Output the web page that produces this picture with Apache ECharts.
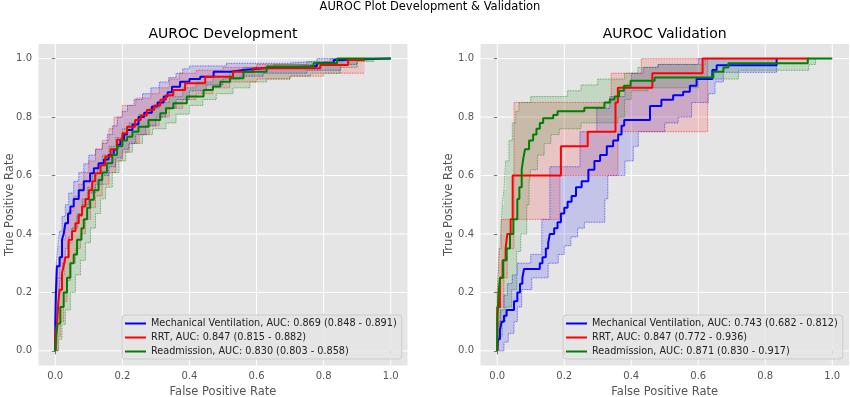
<!DOCTYPE html>
<html>
<head>
<meta charset="utf-8">
<script src="https://cdn.jsdelivr.net/npm/echarts@6/dist/echarts.min.js"></script>
<style>html,body{margin:0;padding:0;background:#fff}#chart{width:850px;height:397px}</style>
</head>
<body>
<div id="chart"></div>
<script>
// ---------- tick values ----------
const xTicks = [0, 0.2, 0.4, 0.6, 0.8, 1.0];
const yTicks = [0, 0.2, 0.4, 0.6, 0.8, 1.0];

// ---------- legend names ----------
const devNames = [
  'Mechanical Ventilation, AUC: 0.869 (0.848 - 0.891)',
  'RRT, AUC: 0.847 (0.815 - 0.882)',
  'Readmission, AUC: 0.830 (0.803 - 0.858)'
];
const valNames = [
  'Mechanical Ventilation, AUC: 0.743 (0.682 - 0.812)',
  'RRT, AUC: 0.847 (0.772 - 0.936)',
  'Readmission, AUC: 0.871 (0.830 - 0.917)'
];

// ---------- Development: [FPR, TPR] step points ----------
const devMV = [[0,0],[0,0.1],[0.002,0.2],[0.005,0.29],[0.013,0.32],[0.02,0.38],[0.025,0.4],[0.03,0.437],[0.038,0.47],[0.045,0.494],[0.055,0.52],[0.07,0.55],[0.085,0.58],[0.104,0.608],[0.115,0.625],[0.129,0.642],[0.145,0.655],[0.159,0.67],[0.174,0.688],[0.185,0.705],[0.194,0.722],[0.205,0.74],[0.214,0.756],[0.23,0.775],[0.248,0.8],[0.265,0.815],[0.288,0.836],[0.305,0.85],[0.323,0.87],[0.335,0.885],[0.348,0.904],[0.372,0.921],[0.4,0.93],[0.432,0.938],[0.472,0.955],[0.521,0.961],[0.561,0.967],[0.62,0.973],[0.76,0.975],[0.78,0.985],[0.83,0.995],[0.85,1.0],[1.0,1.0]];
const devMVHigh = [[0,0],[0,0.2],[0.003,0.3],[0.008,0.36],[0.013,0.41],[0.02,0.46],[0.03,0.5],[0.04,0.54],[0.055,0.58],[0.07,0.61],[0.085,0.64],[0.1,0.67],[0.12,0.69],[0.14,0.71],[0.155,0.74],[0.17,0.77],[0.185,0.8],[0.2,0.82],[0.215,0.84],[0.235,0.86],[0.26,0.88],[0.285,0.9],[0.31,0.92],[0.338,0.935],[0.36,0.95],[0.38,0.965],[0.4,0.975],[0.51,0.984],[0.7,0.99],[0.78,1.0],[1.0,1.0]];
const devMVLow = [[0,0],[0.005,0.1],[0.01,0.2],[0.015,0.25],[0.022,0.3],[0.03,0.35],[0.04,0.39],[0.05,0.42],[0.065,0.46],[0.08,0.5],[0.1,0.54],[0.12,0.57],[0.14,0.6],[0.16,0.63],[0.18,0.66],[0.2,0.69],[0.22,0.71],[0.24,0.74],[0.27,0.77],[0.3,0.8],[0.33,0.83],[0.36,0.86],[0.4,0.89],[0.45,0.91],[0.5,0.93],[0.55,0.94],[0.62,0.95],[0.75,0.96],[0.85,0.98],[0.9,1.0],[1.0,1.0]];

const devRRT = [[0,0],[0,0.05],[0.005,0.094],[0.01,0.175],[0.013,0.209],[0.02,0.266],[0.025,0.29],[0.03,0.32],[0.04,0.38],[0.05,0.41],[0.06,0.437],[0.07,0.465],[0.08,0.494],[0.09,0.52],[0.1,0.55],[0.11,0.58],[0.119,0.608],[0.135,0.635],[0.149,0.665],[0.165,0.69],[0.184,0.722],[0.2,0.745],[0.214,0.767],[0.238,0.79],[0.255,0.805],[0.273,0.824],[0.295,0.84],[0.313,0.859],[0.33,0.875],[0.352,0.893],[0.387,0.916],[0.447,0.938],[0.53,0.955],[0.59,0.967],[0.79,0.978],[0.873,0.995],[0.922,0.995]];
const devRRTHigh = [[0,0],[0,0.05],[0.002,0.15],[0.006,0.25],[0.012,0.32],[0.02,0.38],[0.03,0.44],[0.04,0.48],[0.055,0.53],[0.07,0.57],[0.085,0.61],[0.1,0.65],[0.12,0.69],[0.14,0.72],[0.16,0.76],[0.175,0.8],[0.2,0.84],[0.24,0.865],[0.285,0.88],[0.31,0.9],[0.34,0.93],[0.37,0.95],[0.42,0.96],[0.5,0.97],[0.6,0.98],[0.8,0.99],[0.86,1.0],[0.922,1.0]];
const devRRTLow = [[0,0],[0.008,0.05],[0.015,0.1],[0.025,0.17],[0.035,0.24],[0.045,0.3],[0.06,0.35],[0.075,0.4],[0.09,0.45],[0.105,0.49],[0.12,0.53],[0.14,0.57],[0.16,0.61],[0.18,0.65],[0.2,0.68],[0.22,0.71],[0.25,0.74],[0.28,0.77],[0.31,0.8],[0.34,0.83],[0.38,0.86],[0.42,0.88],[0.47,0.9],[0.52,0.92],[0.6,0.93],[0.7,0.94],[0.8,0.95],[0.922,0.95]];

const devRA = [[0,0],[0.003,0.05],[0.007,0.094],[0.015,0.15],[0.025,0.2],[0.035,0.25],[0.045,0.3],[0.055,0.33],[0.065,0.38],[0.078,0.42],[0.085,0.45],[0.095,0.49],[0.104,0.517],[0.115,0.55],[0.129,0.585],[0.14,0.61],[0.154,0.642],[0.17,0.67],[0.184,0.7],[0.2,0.72],[0.214,0.733],[0.23,0.75],[0.248,0.767],[0.278,0.79],[0.313,0.813],[0.33,0.83],[0.352,0.847],[0.392,0.87],[0.442,0.893],[0.47,0.905],[0.492,0.921],[0.521,0.933],[0.561,0.955],[0.63,0.973],[0.77,0.984],[0.84,1.0],[1.0,1.0]];
const devRAHigh = [[0,0],[0,0.05],[0.004,0.13],[0.01,0.2],[0.018,0.26],[0.027,0.32],[0.037,0.37],[0.05,0.42],[0.065,0.47],[0.08,0.52],[0.095,0.56],[0.11,0.6],[0.125,0.63],[0.14,0.67],[0.16,0.7],[0.18,0.73],[0.2,0.76],[0.22,0.78],[0.25,0.81],[0.28,0.83],[0.31,0.85],[0.34,0.87],[0.38,0.9],[0.42,0.92],[0.47,0.94],[0.52,0.955],[0.56,0.97],[0.65,0.98],[0.75,0.99],[0.82,1.0],[1.0,1.0]];
const devRALow = [[0,0],[0.01,0.04],[0.02,0.09],[0.03,0.14],[0.045,0.2],[0.06,0.26],[0.075,0.31],[0.09,0.37],[0.105,0.42],[0.12,0.47],[0.135,0.52],[0.15,0.56],[0.17,0.61],[0.19,0.65],[0.21,0.68],[0.23,0.71],[0.26,0.74],[0.29,0.76],[0.33,0.78],[0.36,0.81],[0.4,0.84],[0.44,0.86],[0.48,0.88],[0.53,0.9],[0.58,0.92],[0.63,0.93],[0.7,0.94],[0.76,0.95],[0.85,0.97],[0.9,0.99],[0.95,1.0],[1.0,1.0]];

// ---------- Validation: [FPR, TPR] step points ----------
const valMV = [[0,0],[0.002,0.04],[0.008,0.07],[0.013,0.1],[0.02,0.12],[0.028,0.14],[0.05,0.17],[0.06,0.2],[0.068,0.23],[0.075,0.25],[0.08,0.28],[0.127,0.3],[0.135,0.32],[0.145,0.35],[0.152,0.37],[0.157,0.4],[0.17,0.42],[0.18,0.44],[0.19,0.47],[0.2,0.49],[0.21,0.51],[0.222,0.53],[0.235,0.56],[0.252,0.58],[0.272,0.62],[0.29,0.65],[0.307,0.67],[0.327,0.7],[0.346,0.72],[0.361,0.74],[0.371,0.77],[0.379,0.79],[0.456,0.838],[0.49,0.859],[0.525,0.875],[0.555,0.887],[0.575,0.907],[0.595,0.93],[0.642,0.961],[0.655,0.977],[0.834,1.0]];
const valMVHigh = [[0,0],[0,0.05],[0.004,0.1],[0.01,0.14],[0.02,0.19],[0.03,0.23],[0.045,0.26],[0.06,0.3],[0.1,0.33],[0.133,0.45],[0.157,0.63],[0.247,0.75],[0.297,0.83],[0.336,0.87],[0.381,0.9],[0.4,0.95],[0.436,0.97],[0.48,0.98],[0.6,1.0],[0.834,1.0]];
const valMVLow = [[0,0],[0.02,0],[0.02,0.03],[0.033,0.06],[0.05,0.1],[0.06,0.15],[0.073,0.21],[0.103,0.25],[0.152,0.3],[0.182,0.33],[0.2,0.36],[0.22,0.39],[0.24,0.42],[0.26,0.44],[0.321,0.52],[0.33,0.6],[0.381,0.65],[0.406,0.7],[0.421,0.75],[0.5,0.78],[0.54,0.8],[0.58,0.85],[0.63,0.88],[0.65,0.92],[0.675,0.953],[0.834,1.0]];

const valRRT = [[0,0],[0,0.15],[0.008,0.25],[0.016,0.31],[0.025,0.35],[0.03,0.4],[0.04,0.45],[0.046,0.5],[0.046,0.6],[0.19,0.7],[0.27,0.75],[0.353,0.85],[0.36,0.9],[0.463,0.95],[0.613,1.0],[0.93,1.0]];
const valRRTHigh = [[0,0],[0,0.2],[0.005,0.35],[0.012,0.45],[0.05,0.85],[0.34,0.95],[0.43,1.0],[0.93,1.0]];
const valRRTLow = [[0,0],[0.005,0.05],[0.01,0.15],[0.02,0.25],[0.03,0.35],[0.05,0.45],[0.187,0.6],[0.36,0.75],[0.628,1.0],[0.93,1.0]];

const valRA = [[0,0],[0,0.1],[0.004,0.2],[0.008,0.25],[0.018,0.31],[0.028,0.35],[0.038,0.4],[0.048,0.45],[0.06,0.52],[0.066,0.56],[0.073,0.62],[0.078,0.66],[0.083,0.69],[0.095,0.72],[0.107,0.74],[0.117,0.76],[0.127,0.78],[0.137,0.796],[0.167,0.807],[0.18,0.82],[0.26,0.832],[0.32,0.85],[0.336,0.86],[0.35,0.87],[0.364,0.89],[0.378,0.907],[0.398,0.924],[0.47,0.935],[0.645,0.955],[0.675,0.97],[0.69,0.984],[0.927,1.0],[1.0,1.0]];
const valRAHigh = [[0,0],[0,0.2],[0.005,0.3],[0.01,0.4],[0.015,0.5],[0.02,0.55],[0.025,0.65],[0.035,0.72],[0.045,0.78],[0.055,0.82],[0.065,0.85],[0.1,0.87],[0.21,0.89],[0.25,0.91],[0.3,0.93],[0.38,0.95],[0.42,0.97],[0.48,0.98],[0.62,1.0],[1.0,1.0]];
const valRALow = [[0,0],[0.005,0.05],[0.015,0.1],[0.025,0.15],[0.043,0.21],[0.058,0.34],[0.07,0.4],[0.088,0.5],[0.095,0.58],[0.1,0.62],[0.12,0.67],[0.14,0.71],[0.16,0.74],[0.185,0.76],[0.25,0.78],[0.36,0.8],[0.38,0.86],[0.4,0.89],[0.45,0.9],[0.6,0.93],[0.72,0.96],[0.93,0.98],[0.95,1.0],[1.0,1.0]];

// ---------- styling ----------
const COLORS = ['#0000ff', '#ff0000', '#008000'];
const FONT = 'DejaVu Sans';

function stepPts(arr) {
  const out = [arr[0]];
  for (let i = 1; i < arr.length; i++) {
    out.push([arr[i][0], arr[i - 1][1]]);
    out.push(arr[i]);
  }
  return out;
}

function bandFill(upper, lower, color, gi) {
  return {
    type: 'custom', xAxisIndex: gi, yAxisIndex: gi, silent: true, z: 1,
    data: [[0, 0]], encode: { x: 0, y: 1 },
    renderItem: function (params, api) {
      if (params.dataIndex !== 0) return;
      const pts = [];
      stepPts(upper).forEach(p => pts.push(api.coord(p)));
      stepPts(lower).reverse().forEach(p => pts.push(api.coord(p)));
      return { type: 'polygon', shape: { points: pts }, style: { fill: color, opacity: 0.14 } };
    }
  };
}
function bandEdge(data, color, gi) {
  return {
    type: 'line', xAxisIndex: gi, yAxisIndex: gi, silent: true, z: 2,
    data: data, step: 'end', symbol: 'none', showSymbol: false,
    lineStyle: { color: color, width: 0.8, type: 'dotted', opacity: 0.75 }
  };
}
function mainLine(name, data, color, gi) {
  return {
    name: name, type: 'line', xAxisIndex: gi, yAxisIndex: gi, z: 3,
    data: data, step: 'end', symbol: 'none', showSymbol: false,
    color: color, lineStyle: { color: color, width: 2 }
  };
}
function gridLines(gi) {
  return [
    {
      type: 'custom', xAxisIndex: gi, yAxisIndex: gi, silent: true, z: 0, clip: false,
      data: xTicks.map(v => [v, 0]), encode: { x: 0, y: 1 },
      renderItem: function (params, api) {
        const v = api.value(0);
        const a = api.coord([v, -0.05]), b = api.coord([v, 1.05]);
        return { type: 'line', shape: { x1: a[0], y1: a[1], x2: b[0], y2: b[1] }, style: { stroke: '#ffffff', lineWidth: 1 } };
      }
    },
    {
      type: 'custom', xAxisIndex: gi, yAxisIndex: gi, silent: true, z: 0, clip: false,
      data: yTicks.map(v => [0, v]), encode: { x: 0, y: 1 },
      renderItem: function (params, api) {
        const v = api.value(1);
        const a = api.coord([-0.05, v]), b = api.coord([1.05, v]);
        return { type: 'line', shape: { x1: a[0], y1: a[1], x2: b[0], y2: b[1] }, style: { stroke: '#ffffff', lineWidth: 1 } };
      }
    }
  ];
}

function xAxisDef(gi) {
  return {
    type: 'value', gridIndex: gi, min: -0.05, max: 1.05,
    name: 'False Positive Rate', nameLocation: 'middle', nameGap: 21, nameMoveOverlap: false,
    nameTextStyle: { color: '#555555', fontSize: 11.5, fontFamily: FONT },
    axisLine: { show: false },
    axisTick: { show: true, customValues: xTicks, length: 3.5, lineStyle: { color: '#555555', width: 0.8 } },
    axisLabel: { customValues: xTicks, color: '#555555', fontSize: 10, fontFamily: FONT, margin: 6, formatter: v => v.toFixed(1) },
    splitLine: { show: false }
  };
}
function yAxisDef(gi, gap) {
  return {
    type: 'value', gridIndex: gi, min: -0.05, max: 1.05,
    name: 'True Positive Rate', nameLocation: 'middle', nameGap: gap, nameMoveOverlap: false,
    nameTextStyle: { color: '#555555', fontSize: 11.5, fontFamily: FONT },
    axisLine: { show: false },
    axisTick: { show: true, customValues: yTicks, length: 3.5, lineStyle: { color: '#555555', width: 0.8 } },
    axisLabel: { customValues: yTicks, color: '#555555', fontSize: 10, fontFamily: FONT, margin: 6.5, formatter: v => v.toFixed(1) },
    splitLine: { show: false }
  };
}
function legendDef(names, left) {
  return {
    data: names, orient: 'vertical', left: left, top: 315,
    icon: 'rect', itemWidth: 21, itemHeight: 2, itemGap: 4, itemTextGap: 7,
    padding: [3.5, 5, 2.5, 3], selectedMode: false,
    backgroundColor: 'rgba(229,229,229,0.85)', borderColor: '#cccccc', borderWidth: 1, borderRadius: 3,
    textStyle: { color: '#222222', fontSize: 9.7, fontFamily: FONT, lineHeight: 10 }
  };
}

const devSets = [[devMV, devMVHigh, devMVLow], [devRRT, devRRTHigh, devRRTLow], [devRA, devRAHigh, devRALow]];
const valSets = [[valMV, valMVHigh, valMVLow], [valRRT, valRRTHigh, valRRTLow], [valRA, valRAHigh, valRALow]];

const series = [];
series.push(...gridLines(0), ...gridLines(1));
[[devSets, devNames, 0], [valSets, valNames, 1]].forEach(([sets, names, gi]) => {
  sets.forEach((s, i) => {
    series.push(bandFill(s[1], s[2], COLORS[i], gi));
    series.push(bandEdge(s[1], COLORS[i], gi));
    series.push(bandEdge(s[2], COLORS[i], gi));
  });
  sets.forEach((s, i) => series.push(mainLine(names[i], s[0], COLORS[i], gi)));
});

const chart = echarts.init(document.getElementById('chart'), null, { renderer: 'canvas' });
chart.setOption({
  backgroundColor: '#ffffff',
  animation: false,
  textStyle: { fontFamily: FONT },
  title: [
    { text: 'AUROC Plot Development & Validation', left: 430, top: 1.5, textAlign: 'center', padding: 0,
      textStyle: { fontSize: 11.5, fontWeight: 'normal', color: '#000000', fontFamily: FONT } },
    { text: 'AUROC Development', left: 223, top: 27, textAlign: 'center', padding: 0,
      textStyle: { fontSize: 14, fontWeight: 'normal', color: '#000000', fontFamily: FONT } },
    { text: 'AUROC Validation', left: 664.7, top: 27, textAlign: 'center', padding: 0,
      textStyle: { fontSize: 14, fontWeight: 'normal', color: '#000000', fontFamily: FONT } }
  ],
  grid: [
    { left: 38.5, top: 44, width: 369, height: 321.5, show: true, backgroundColor: '#e5e5e5', borderWidth: 0, outerBoundsMode: 'none', containLabel: false },
    { left: 480.5, top: 44, width: 368.5, height: 321.5, show: true, backgroundColor: '#e5e5e5', borderWidth: 0, outerBoundsMode: 'none', containLabel: false }
  ],
  xAxis: [xAxisDef(0), xAxisDef(1)],
  yAxis: [yAxisDef(0, 22), yAxisDef(1, 25.5)],
  legend: [legendDef(devNames, 122), legendDef(valNames, 563)],
  series: series
});
</script>
</body>
</html>
